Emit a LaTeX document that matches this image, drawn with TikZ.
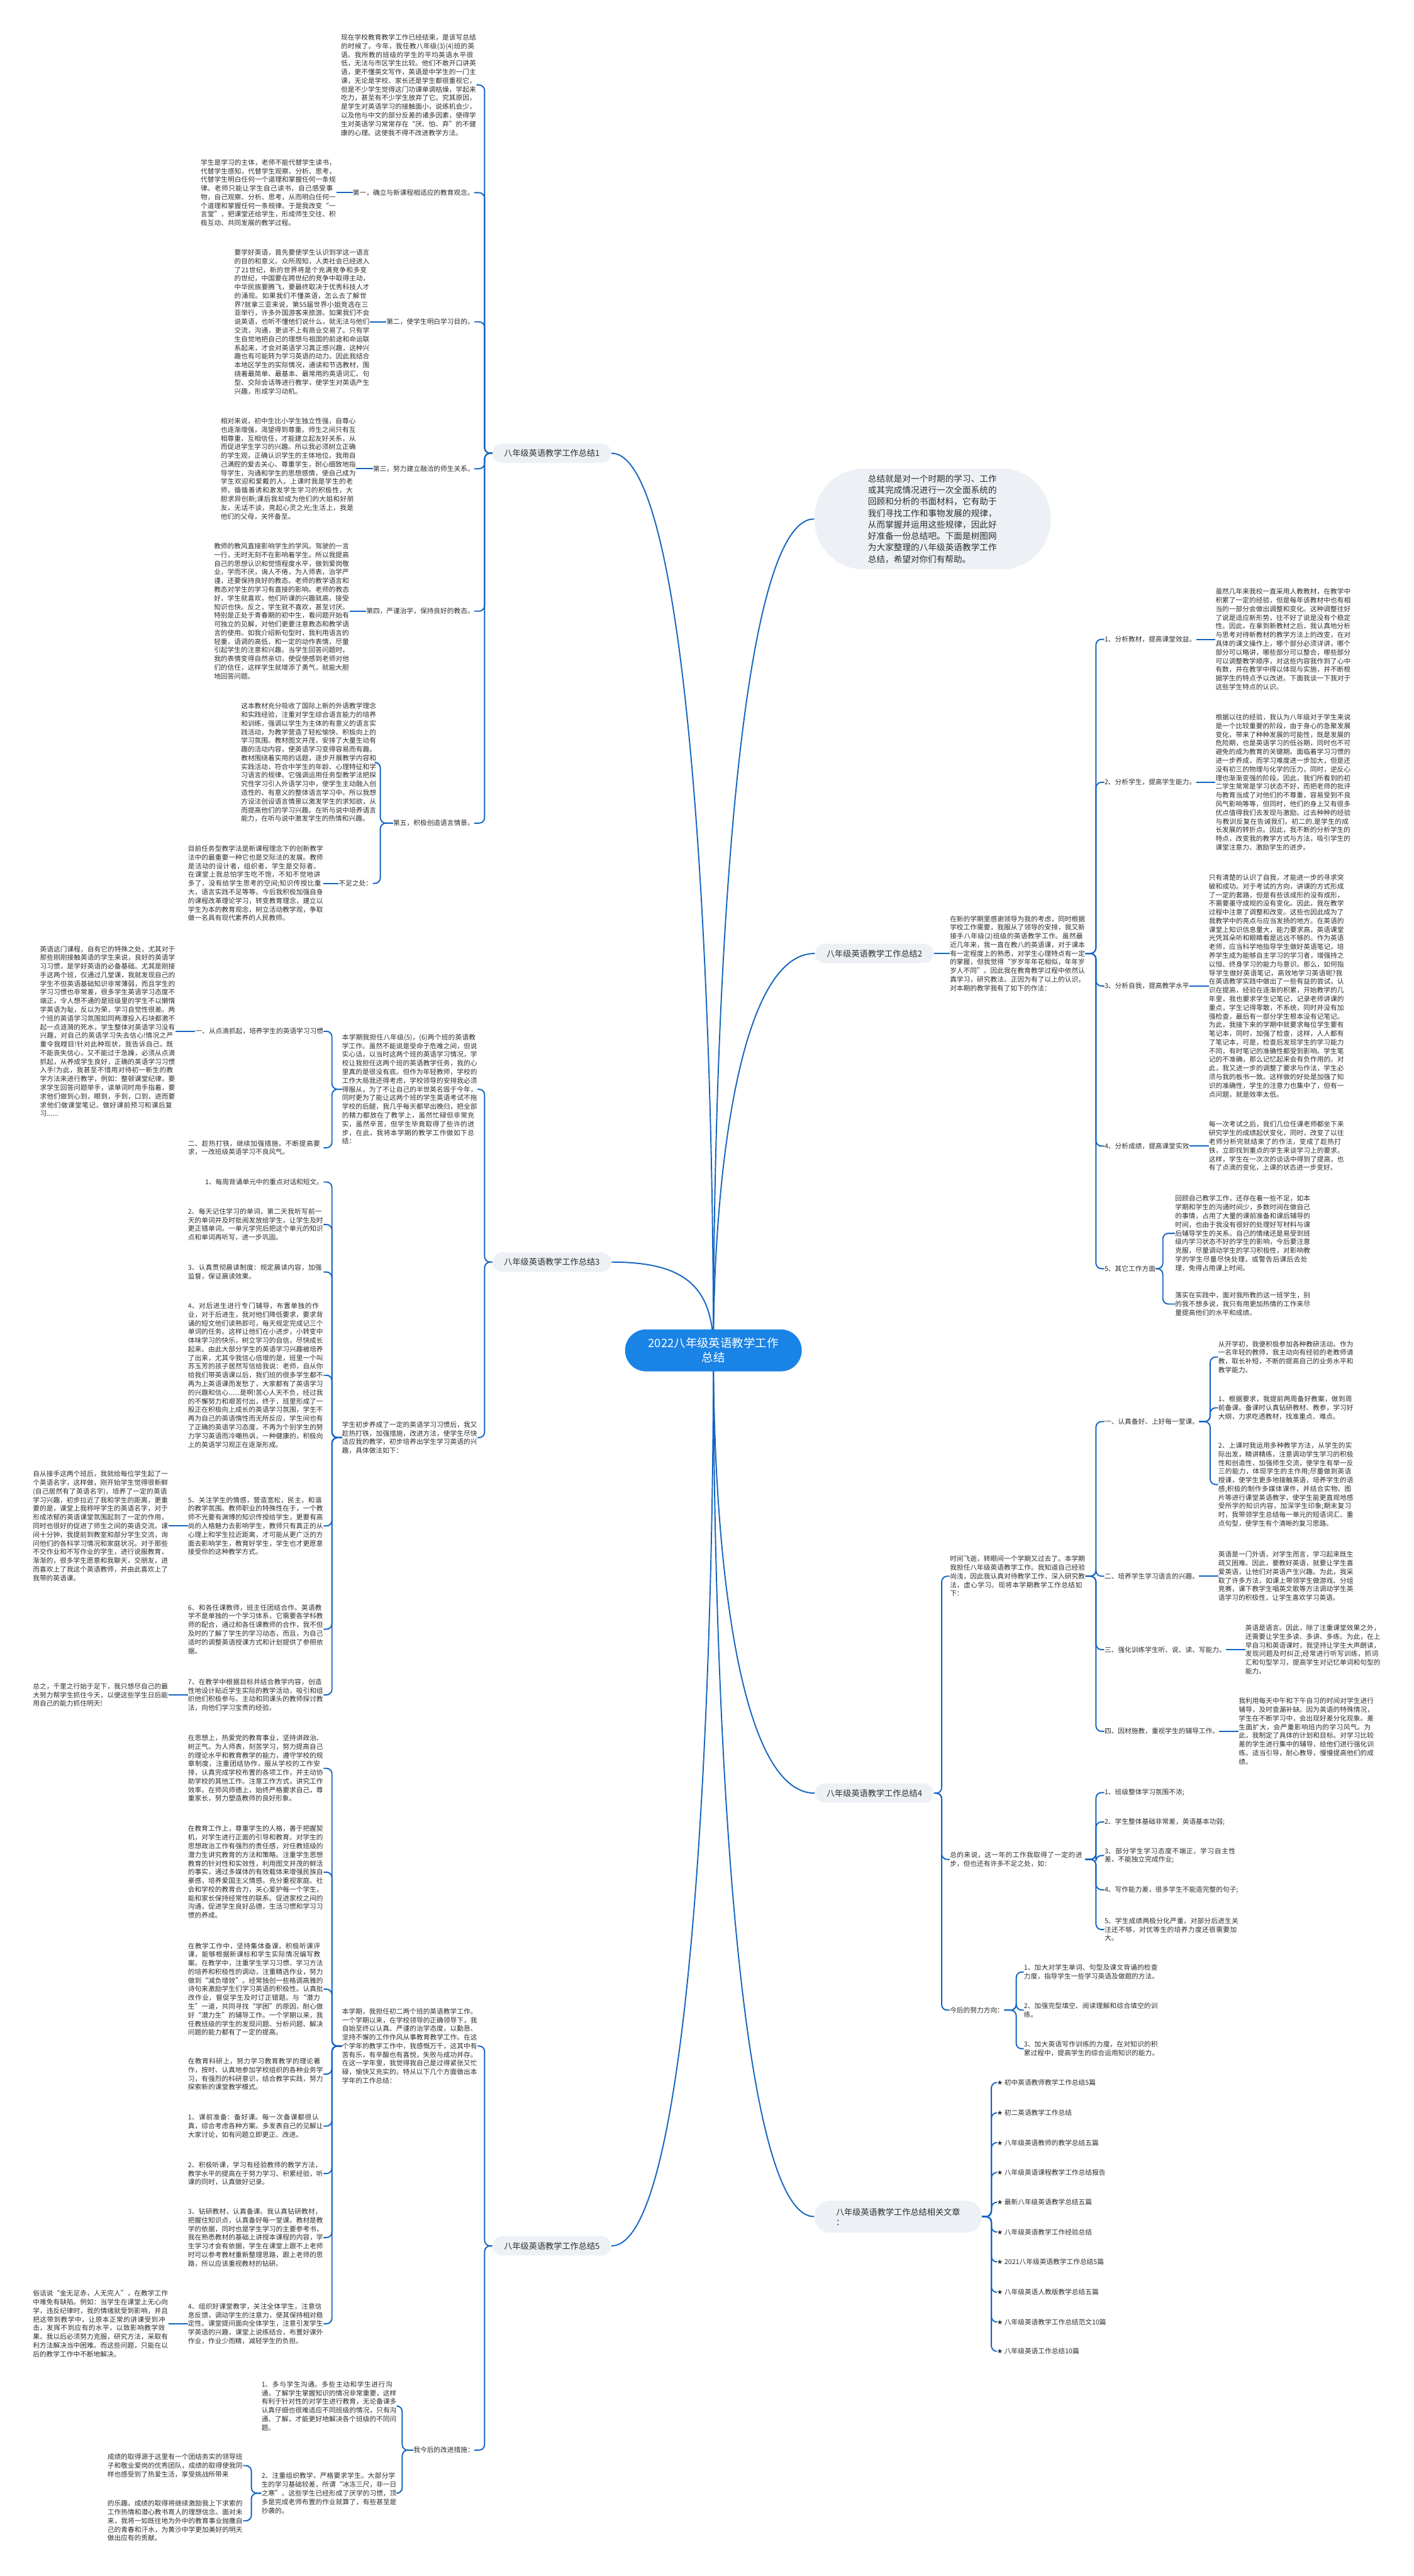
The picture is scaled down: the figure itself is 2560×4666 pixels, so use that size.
\documentclass[tikz,border=0pt]{standalone}
\usepackage{fontspec}
\setmainfont{Noto Sans CJK SC}
\newfontfamily\symf{DejaVu Sans}
\XeTeXlinebreaklocale "zh"
\XeTeXlinebreakskip = 0pt plus 1pt
\definecolor{lineblue}{RGB}{21,101,192}
\definecolor{cenblue}{RGB}{25,131,230}
\definecolor{bub}{RGB}{237,241,245}
\definecolor{txt}{RGB}{45,45,45}
\newcommand\myfs{\fontsize{6.1pt}{7.85pt}\selectfont}
\newcommand\mysumfs{\fontsize{7.75pt}{10.4pt}\selectfont}
\newcommand\mybrfs{\fontsize{7.5pt}{9pt}\selectfont}
\newcommand\mycenfs{\fontsize{10.5pt}{13pt}\selectfont}
\newcommand\st{{\symf ★}\ }
\pgfdeclarelayer{bg}
\pgfsetlayers{bg,main}
\tikzset{
  conn/.style={draw=lineblue, line width=1.1pt, rounded corners=5pt},
  cc/.style={draw=lineblue, line width=1.1pt},
  blk/.style={font=\myfs, text=txt, text width=122.5pt, align=left, inner sep=0pt},
  lab/.style={font=\myfs, text=txt, inner sep=0pt, align=left},
  br/.style={fill=bub, rounded corners=8.75pt, minimum width=107.5pt, minimum height=17.5pt, font=\mybrfs, text=txt, inner sep=0pt},
  cen/.style={fill=cenblue, text=white, rounded corners=19pt, minimum width=160pt, minimum height=38pt, font=\mycenfs, align=center, inner sep=0pt},
  sumb/.style={fill=bub, rounded corners=45pt, minimum width=214pt, minimum height=91.5pt, font=\mysumfs, text=txt, text width=117pt, align=left, inner sep=0pt}
}
\begin{document}
\begin{tikzpicture}[x=0.5pt,y=-0.5pt]
\useasboundingbox (0,0) rectangle (2560,4666);

% ---------- centre ----------
\node[cen] (cn) at (1292,2446) {2022八年级英语教学工作\\总结};

% ---------- branch 1 ----------
\node[br] (b1) at (999.5,821) {八年级英语教学工作总结1};
\node[blk, anchor=east] (a1) at (863,154) {现在学校教育教学工作已经结束，是该写总结的时候了。今年，我任教八年级(3)(4)班的英语。我所教的班级的学生的平均英语水平很低，无法与市区学生比较。他们不敢开口讲英语，更不懂英文写作，英语是中学生的一门主课，无论是学校、家长还是学生都很重视它，但是不少学生觉得这门功课单调枯燥，学起来吃力，甚至有不少学生放弃了它。究其原因，是学生对英语学习的接触面小，说练机会少，以及他与中文的部分反差的诸多因素，使得学生对英语学习常常存在“厌、怕、弃”的不健康的心理。这使我不得不改进教学方法。};
\node[lab, anchor=east] (l1) at (859,349) {第一，确立与新课程相适应的教育观念。};
\node[blk, anchor=east] (a2) at (609,349) {学生是学习的主体，老师不能代替学生读书，代替学生感知，代替学生观察、分析、思考，代替学生明白任何一个道理和掌握任何一条规律。老师只能让学生自己读书，自己感受事物，自己观察、分析、思考，从而明白任何一个道理和掌握任何一条规律。于是我改变“一言堂”，把课堂还给学生，形成师生交往、积极互动、共同发展的教学过程。};
\node[lab, anchor=east] (l2) at (859,583) {第二，使学生明白学习目的。};
\node[blk, anchor=east] (a3) at (670,583) {要学好英语，首先要使学生认识到学这一语言的目的和意义。众所周知，人类社会已经进入了21世纪，新的世界将是个充满竞争和多变的世纪，中国要在跨世纪的竞争中取得主动，中华民族要腾飞，要最终取决于优秀科技人才的涌现。如果我们不懂英语，怎么去了解世界?就拿三亚来说，第55届世界小姐竞选在三亚举行，许多外国游客来旅游。如果我们不会说英语，也听不懂他们说什么，就无法与他们交流，沟通，更谈不上有商业交易了。只有学生自觉地把自己的理想与祖国的前途和命运联系起来，才会对英语学习真正感兴趣，这种兴趣也有可能转为学习英语的动力。因此我结合本地区学生的实际情况，通读和节选教材，围绕着最简单、最基本、最常用的英语词汇、句型、交际会话等进行教学，使学生对英语产生兴趣，形成学习动机。};
\node[lab, anchor=east] (l3) at (859,849) {第三，努力建立融洽的师生关系。};
\node[blk, anchor=east] (a4) at (645,849) {相对来说，初中生比小学生独立性强，自尊心也逐渐增强，渴望得到尊重。师生之间只有互相尊重，互相信任，才能建立起友好关系，从而促进学生学习的兴趣。所以我必须树立正确的学生观，正确认识学生的主体地位。我用自己满腔的爱去关心、尊重学生，耐心细致地指导学生，沟通和学生的思想感情，使自己成为学生欢迎和爱戴的人。上课时我是学生的老师，循循善诱和激发学生学习的积极性，大胆求异创新;课后我却成为他们的大姐和好朋友，无话不谈，亮起心灵之光;生活上，我是他们的父母，关怀备至。};
\node[lab, anchor=east] (l4) at (859,1107) {第四，严谨治学，保持良好的教态。};
\node[blk, anchor=east] (a5) at (633,1107) {教师的教风直接影响学生的学风。驾驶的一言一行，无时无刻不在影响着学生。所以我提高自己的思想认识和觉悟程度水平，做到爱岗敬业，学而不厌，诲人不倦，为人师表，治学严谨，还要保持良好的教态。老师的教学语言和教态对学生的学习有直接的影响。老师的教态好，学生就喜欢，他们听课的兴趣就高，接受知识也快。反之，学生就不喜欢，甚至讨厌。特别是正处于青春期的初中生，看问题开始有可独立的见解，对他们更要注意教态和教学语言的使用。如我介绍新句型时，我利用语言的轻重，语调的高低，和一定的动作表情，尽量引起学生的注意和兴趣。当学生回答问题时，我的表情变得自然亲切，使促使感到老师对他们的信任，这样学生就增添了勇气，就能大胆地回答问题。};
\node[lab, anchor=east] (l5) at (859,1491) {第五，积极创造语言情景。};
\node[blk, anchor=east] (a6) at (682,1381) {这本教材充分吸收了国际上新的外语教学理念和实践经验，注重对学生综合语言能力的培养和训练，强调以学生为主体的有意义的语言实践活动，为教学营造了轻松愉快、积极向上的学习氛围。教材图文并茂，安排了大量生动有趣的活动内容，使英语学习变得容易而有趣。教材围绕着实用的话题，逐步开展教学内容和实践活动，符合中学生的年龄、心理特征和学习语言的规律。它强调运用任务型教学法把探究性学习引入外语学习中，使学生主动融入创造性的、有意义的整体语言学习中。所以我想方设法创设语言情景以激发学生的求知欲，从而提高他们的学习兴趣。在听与说中培养语言能力，在听与说中激发学生的热情和兴趣。};
\node[lab, anchor=east] (l6) at (675,1600) {不足之处：};
\node[blk, anchor=east] (a7) at (586,1600) {目前任务型教学法是新课程理念下的创新教学法中的最重要一种它也是交际法的发展。教师是活动的设计者，组织者，学生是交际者。在课堂上我总怕学生吃不饱，不知不觉地讲多了，没有给学生思考的空间;知识传授比重大，语言实践不足等等。今后我积极加强自身的课程改革理论学习，转变教育理念，建立以学生为本的教育观念，树立活动教学观，争取做一名具有现代素养的人民教师。};

% ---------- branch 3 ----------
\node[br] (b3) at (999.5,2286) {八年级英语教学工作总结3};
\node[blk, anchor=east] (c1) at (865,1973) {本学期我担任八年级(5)，(6)两个班的英语教学工作。虽然不能说是受命于危难之间，但说实心话，以当时这两个班的英语学习情况，学校让我担任这两个班的英语教学任务，我的心里真的是很没有底。但作为年轻教师，学校的工作大局我还得考虑，学校领导的安排我必须得服从，为了不让自己的半世英名毁于今年，同时更为了能让这两个班的学生英语考试不拖学校的后腿，我几乎每天都早出晚归，把全部的精力都放在了教学上，虽然忙碌但非常充实，虽然辛苦，但学生毕竟取得了些许的进步，在此，我将本学期的教学工作做如下总结：};
\node[lab, anchor=east] (k1) at (586,1868) {一、从点滴抓起，培养学生的英语学习习惯};
\node[blk, anchor=east] (h1) at (318,1868) {英语这门课程，自有它的特殊之处，尤其对于那些刚刚接触英语的学生来说，良好的英语学习习惯，是学好英语的必备基础。尤其是刚接手这两个班，仅通过几堂课，我就发现自己的学生不但英语基础知识非常薄弱，而且学生的学习习惯也非常差，很多学生英语学习态度不端正，令人想不通的是班级里的学生不以懒惰学英语为耻，反以为荣，学习自觉性很差。两个班的英语学习氛围如同两潭投入石块都激不起一点涟漪的死水，学生整体对英语学习没有兴趣，对自己的英语学习失去信心!情况之严重令我瞠目!针对此种现状，我告诉自己，既不能丧失信心，又不能过于急躁，必须从点滴抓起，从养成学生良好，正确的英语学习习惯入手!为此，我甚至不惜用对待初一新生的教学方法来进行教学，例如：整顿课堂纪律，要求学生回答问题举手，读单词时用手指着，要求他们做到心到，眼到，手到，口到，进而要求他们做课堂笔记，做好课前预习和课后复习......};
\node[blk, anchor=east] (k2) at (586,2079) {二、趁热打铁，继续加强措施，不断提高要求，一改班级英语学习不良风气。};
\node[blk, anchor=east] (c2) at (865,2604) {学生初步养成了一定的英语学习习惯后，我又趁热打铁，加强措施，改进方法，使学生尽快适应我的教学，初步培养出学生学习英语的兴趣，具体做法如下：};
\node[lab, anchor=east] (m1) at (586,2141) {1、每周背诵单元中的重点对话和短文。};
\node[blk, anchor=east] (m2) at (586,2218) {2、每天记住学习的单词，第二天我听写前一天的单词并及时批阅发放给学生，让学生及时更正错单词。一单元学完后把这个单元的知识点和单词再听写，进一步巩固。};
\node[blk, anchor=east] (m3) at (586,2304) {3、认真贯彻晨读制度：规定晨读内容，加强监督，保证晨读效果。};
\node[blk, anchor=east] (m4) at (586,2491) {4、对后进生进行专门辅导，布置单独的作业，对于后进生，我对他们降低要求，要求背诵的短文他们读熟即可，每天规定完成记三个单词的任务。这样让他们在小进步，小转变中体味学习的快乐，树立学习的自信，尽快成长起来。由此大部分学生的英语学习兴趣被培养了出来，尤其令我信心倍增的是，班里一个叫苏玉芳的孩子居然写信给我说：老师，自从你给我们带英语课以后，我们班的很多学生都不再为上英语课而发愁了，大家都有了英语学习的兴趣和信心......是啊!苦心人天不负，经过我的不懈努力和艰苦付出，终于，班里形成了一股正在积极向上成长的英语学习氛围，学生不再为自己的英语惰性而无所反应，学生间也有了正确的英语学习态度，不再为个别学生的努力学习英语而冷嘲热讽，一种健康的，积极向上的英语学习观正在逐渐形成。};
\node[blk, anchor=east] (m5) at (586,2764) {5、关注学生的情感，营造宽松，民主，和谐的教学氛围。教师职业的特殊性在于，一个教师不光要有渊博的知识传授给学生，更要有高尚的人格魅力去影响学生，教师只有真正的从心理上和学生拉近距离，才可能从更广泛的方面去影响学生，教育好学生，学生也才更愿意接受你的这种教学方式。};
\node[blk, anchor=east] (m5b) at (305,2764) {自从接手这两个班后，我就给每位学生起了一个英语名字，这样做，刚开始学生觉得很新鲜(自己居然有了英语名字)，培养了一定的英语学习兴趣，初步拉近了我和学生的距离，更重要的是，课堂上我称呼学生的英语名字，对于形成浓郁的英语课堂氛围起到了一定的作用，同时也很好的促进了师生之间的英语交流。课间十分钟，我提前到教室和部分学生交流，询问他们的各科学习情况和家庭状况。对于那些不交作业和不写作业的学生，进行说服教育，渐渐的，很多学生愿意和我聊天，交朋友，进而喜欢上了我这个英语教师，并由此喜欢上了我带的英语课。};
\node[blk, anchor=east] (m6) at (586,2951) {6、和各任课教师，班主任团结合作。英语教学不是单独的一个学习体系，它需要各学科教师的配合，通过和各任课教师的合作，我不但及时的了解了学生的学习动态，而且，为自己适时的调整英语授课方式和计划提供了参照依据。};
\node[blk, anchor=east] (m7) at (586,3070) {7、在教学中根据目标并结合教学内容，创造性地设计贴近学生实际的教学活动，吸引和组织他们积极参与。主动和同课头的教师探讨教法，向他们学习宝贵的经验。};
\node[blk, anchor=east] (m7b) at (305,3070) {总之，千里之行始于足下，我只想尽自己的最大努力帮学生抓住今天，以便这些学生日后能用自己的能力抓住明天!};

% ---------- branch 5 ----------
\node[br] (b5) at (999.5,4068) {八年级英语教学工作总结5};
\node[blk, anchor=east] (n0) at (865,3706) {本学期，我担任初二两个班的英语教学工作。一个学期以来，在学校领导的正确领导下，我自始至终以认真、严谨的治学态度，以勤恳、坚持不懈的工作作风从事教育教学工作。在这个学年的教学工作中，我感慨万千，这其中有苦有乐，有辛酸也有喜悦，失败与成功并存。在这一学年里，我觉得我自己是过得紧张又忙碌，愉快又充实的。特从以下几个方面做出本学年的工作总结：};
\node[blk, anchor=east] (p1) at (586,3203) {在思想上，热爱党的教育事业，坚持讲政治、树正气。为人师表，刻苦学习，努力提高自己的理论水平和教育教学的能力，遵守学校的规章制度，注重团结协作，服从学校的工作安排，认真完成学校布置的各项工作，并主动协助学校的其他工作。注意工作方式，讲究工作效率。在师风师德上，始终严格要求自己，尊重家长，努力塑造教师的良好形象。};
\node[blk, anchor=east] (p2) at (586,3391) {在教育工作上，尊重学生的人格，善于把握契机，对学生进行正面的引导和教育。对学生的思想政治工作有强烈的责任感，对任教班级的潜力生讲究教育的方法和策略。注重学生思想教育的针对性和实效性，利用图文并茂的鲜活的事实，通过多媒体的有效载体来增强民族自豪感，培养爱国主义情感。充分重视家庭、社会和学校的教育合力，关心爱护每一个学生，能和家长保持经常性的联系。促进家校之间的沟通，促进学生良好品德，生活习惯和学习习惯的养成。};
\node[blk, anchor=east] (p3) at (586,3603) {在教学工作中，坚持集体备课，积极听课评课，能够根据新课标和学生实际情况编写教案。在教学中，注重学生学习习惯、学习方法的培养和积极性的调动，注重精选作业，努力做到“减负增效”。经常独创一些格调高雅的诗句来激励学生们学习英语的积极性。认真批改作业，督促学生及时订正错题。与“潜力生”一道，共同寻找“学困”的原因，耐心做好“潜力生”的辅导工作。一个学期以来，我任教班级的学生的发现问题、分析问题、解决问题的能力都有了一定的提高。};
\node[blk, anchor=east] (p4) at (586,3757) {在教育科研上，努力学习教育教学的理论著作，按时、认真地参加学校组织的各种业务学习，有强烈的科研意识，结合教学实践，努力探索新的课堂教学模式。};
\node[blk, anchor=east] (p5) at (586,3851) {1、课前准备：备好课。每一次备课都很认真，综合考虑各种方案。多发表自己的见解让大家讨论，如有问题立即更正、改进。};
\node[blk, anchor=east] (p6) at (586,3937) {2、积极听课，学习有经验教师的教学方法，教学水平的提高在于努力学习、积累经验，听课的同时，认真做好记录。};
\node[blk, anchor=east] (p7) at (586,4053) {3、钻研教材，认真备课。我认真钻研教材，把握住知识点，认真备好每一堂课。教材是教学的依据，同时也是学生学习的主要参考书，我在熟悉教材的基础上讲授本课程的内容，学生学习才会有依据，学生在课堂上跟不上老师时可以参考教材重新整理思路，跟上老师的思路，所以应该重视教材的钻研。};
\node[blk, anchor=east] (p8) at (586,4209) {4、组织好课堂教学，关注全体学生，注意信息反馈，调动学生的注意力，使其保持相对稳定性。课堂提问面向全体学生，注意引发学生学英语的兴趣，课堂上说练结合，布置好课外作业，作业少而精，减轻学生的负担。};
\node[blk, anchor=east] (p8b) at (305,4209) {俗话说“金无足赤，人无完人”，在教学工作中难免有缺陷。例如：当学生在课堂上无心向学，违反纪律时，我的情绪就受到影响，并且把这带到教学中，让原本正常的讲课受到冲击，发挥不到应有的水平，以致影响教学效果。我以后必须努力克服，研究方法，采取有利方法解决当中困难。而这些问题，只能在以后的教学工作中不断地解决。};
\node[lab, anchor=east] (q0) at (859,4438) {我今后的改进措施：};
\node[blk, anchor=east] (q1) at (719,4358) {1、多与学生沟通。多些主动和学生进行沟通，了解学生掌握知识的情况非常重要，这样有利于针对性的对学生进行教育，无论备课多认真仔细也很难适应不同班级的情况，只有沟通、了解，才能更好地解决各个班级的不同问题。};
\node[blk, anchor=east] (q2) at (719,4516) {2、注重组织教学，严格要求学生。大部分学生的学习基础较差，所谓“冰冻三尺，非一日之寒”。这些学生已经形成了厌学的习惯，顶多是完成老师布置的作业就算了，有些甚至是抄袭的。};
\node[blk, anchor=east] (r1) at (440,4466) {成绩的取得源于这里有一个团结务实的领导班子和敬业爱岗的优秀团队，成绩的取得使我同样也感受到了热爱生活，享受挑战所带来};
\node[blk, anchor=east] (r2) at (440,4566) {的乐趣。成绩的取得将继续激励我上下求索的工作热情和潜心教书育人的理想信念。面对未来，我将一如既往地为外中的教育事业抛撒自己的青春和汗水，为黄沙中学更加美好的明天做出应有的贡献。};

% ---------- summary ----------
\node[sumb] (sm) at (1689,940) {总结就是对一个时期的学习、工作或其完成情况进行一次全面系统的回顾和分析的书面材料，它有助于我们寻找工作和事物发展的规律，从而掌握并运用这些规律，因此好好准备一份总结吧。下面是树图网为大家整理的八年级英语教学工作总结，希望对你们有帮助。};

% ---------- branch 2 ----------
\node[br] (b2) at (1583.5,1727) {八年级英语教学工作总结2};
\node[blk, anchor=west] (s0) at (1720,1727) {在新的学期里感谢领导为我的考虑，同时根据学校工作需要，我服从了领导的安排，我又新接手八年级(2)班级的英语教学工作。虽然最近几年来，我一直在教八的英语课，对于课本有一定程度上的熟悉，对学生心理特点有一定的掌握，但我觉得“岁岁年年花相似，年年岁岁人不同”。因此我在教育教学过程中依然认真学习，研究教法。正因为有了以上的认识，对本期的教学我有了如下的作法：};
\node[lab, anchor=west] (i1) at (2000,1158) {1、分析教材，提高课堂效益。};
\node[lab, anchor=west] (i2) at (2000,1417) {2、分析学生，提高学生能力。};
\node[lab, anchor=west] (i3) at (2000,1786) {3、分析自我，提高教学水平};
\node[lab, anchor=west] (i4) at (2000,2076) {4、分析成绩，提高课堂实效};
\node[lab, anchor=west] (i5) at (2000,2298) {5、其它工作方面};
\node[blk, anchor=west] (t1) at (2201,1158) {虽然几年来我校一直采用人教教材，在教学中积累了一定的经验，但是每年该教材中也有相当的一部分会做出调整和变化。这种调整往好了说是适应新形势，往不好了说是没有个稳定性。因此，在拿到新教材之后，我认真地分析与思考对待新教材的教学方法上的改变，在对具体的课文操作上，哪个部分必须详讲，哪个部分可以略讲，哪些部分可以整合，哪些部分可以调整教学顺序，对这些内容我作到了心中有数，并在教学中得以体现与实施，并不断根据学生的特点予以改进。下面我谈一下我对于这些学生特点的认识。};
\node[blk, anchor=west] (t2) at (2201,1417) {根据以往的经验，我认为八年级对于学生来说是一个比较重要的阶段，由于身心的急聚发展变化，带来了种种发展的可能性，既是发展的危险期，也是英语学习的低谷期，同时也不可避免的成为教育的关键期。面临着学习习惯的进一步养成，而学习难度进一步加大，但是还没有初三的物理与化学的压力，同时，逆反心理也渐渐变强的阶段。因此，我们所看到的初二学生常常是学习状态不好，而把老师的批评与教育当成了对他们的不尊重，容易受到不良风气影响等等，但同时，他们的身上又有很多优点值得我们去发现与激励。过去种种的经验与教训反复在告诫我们，初二的.是学生的成长发展的转折点。因此，我不断的分析学生的特点，改变我的教学方式与方法，吸引学生的课堂注意力、激励学生的进步。};
\node[blk, anchor=west] (t3) at (2189,1786) {只有清楚的认识了自我，才能进一步的寻求突破和成功。对于考试的方向，讲课的方式形成了一定的套路，但是有些该成形的没有成形，不需要墨守成规的没有变化。因此，我在教学过程中注意了调整和改变。这些也因此成为了我教学中的亮点与应当发扬的地方。在英语的课堂上知识信息量大，能力要求高，英语课堂光凭耳朵听和眼睛看是远远不够的。作为英语老师，应当科学地指导学生做好英语笔记，培养学生成为能够自主学习的学习者，增强持之以恒、终身学习的能力与意识。那么，如何指导学生做好英语笔记，高效地学习英语呢?我在英语教学实践中做出了一些有益的尝试，认识在提高，经验在逐渐的积累，开始教学的几年里，我也要求学生记笔记，记录老师讲课的重点，学生记得零散，不系统，同时并没有加强检查，最后有一部分学生根本没有记笔记。为此，我接下来的学期中就要求每位学生要有笔记本，同时，加强了检查，这样，人人都有了笔记本，可是，检查后发现学生的学习能力不同，有时笔记的准确性都受到影响。学生笔记的不准确，那么记忆起来会有负作用的。对此，我又进一步的调整了要求与作法，学生必须与我的板书一致。这样做的好处是加强了知识的准确性，学生的注意力也集中了，但有一点问题，就是效率太低。};
\node[blk, anchor=west] (t4) at (2189,2076) {每一次考试之后，我们几位任课老师都坐下来研究学生的成绩起伏变化，同时，改变了以往老师分析完就结束了的作法，变成了趁热打铁，立即找到重点的学生来谈学习上的要求。这样，学生在一次次的谈话中得到了提高，也有了点滴的变化，上课的状态进一步变好。};
\node[blk, anchor=west] (t5a) at (2128,2234) {回顾自己教学工作，还存在着一些不足，如本学期和学生的沟通时间少，多数时间在做自己的事情，占用了大量的课前准备和课后辅导的时间，也由于我没有很好的处理好写材料与课后辅导学生的关系。自己的情绪还是易受到班级内学习状态不好的学生的影响，今后要注意克服，尽量调动学生的学习积极性，对影响教学的学生尽量尽快处理，或警告后课后去处理，免得占用课上时间。};
\node[blk, anchor=west] (t5b) at (2128,2362) {落实在实践中，面对我所教的这一班学生，别的我不想多说，我只有用更加热情的工作来尽量提高他们的水平和成绩。};

% ---------- branch 4 ----------
\node[br] (b4) at (1583.5,3248) {八年级英语教学工作总结4};
\node[blk, anchor=west] (u0) at (1720,2855) {时间飞逝，转眼间一个学期又过去了。本学期我担任八年级英语教学工作。我知道自己经验尚浅，因此我认真对待教学工作，深入研究教法，虚心学习。现将本学期教学工作总结如下：};
\node[lab, anchor=west] (v1) at (2000,2575) {一、认真备好、上好每一堂课。};
\node[lab, anchor=west] (v2) at (2000,2855) {二、培养学生学习语言的兴趣。};
\node[lab, anchor=west] (v3) at (2000,2988) {三、强化训练学生听、说、读、写能力。};
\node[lab, anchor=west] (v4) at (2000,3136) {四、因材施教，重视学生的辅导工作。};
\node[blk, anchor=west] (w1) at (2206,2458) {从开学初，我便积极参加各种教研活动。作为一名年轻的教师，我主动向有经验的老教师请教，取长补短，不断的提高自己的业务水平和教学能力。};
\node[blk, anchor=west] (w2) at (2206,2550) {1、根据要求，我提前两周备好教案，做到周前备课。备课时认真钻研教材、教参，学习好大纲，力求吃透教材，找准重点、难点。};
\node[blk, anchor=west] (w3) at (2206,2689) {2、上课时我运用多种教学方法，从学生的实际出发，精讲精练，注意调动学生学习的积极性和创造性，加强师生交流，使学生有举一反三的能力，体现学生的主作用;尽量做到英语授课，使学生更多地接触英语，培养学生的语感;积极的制作多媒体课件，并结合实物、图片等进行课堂英语教学，使学生能更直观地感受所学的知识内容，加深学生印象;期末复习时，我带领学生总结每一单元的短语词汇、重点句型，使学生有个清晰的复习思路。};
\node[blk, anchor=west] (w4) at (2206,2855) {英语是一门外语，对学生而言，学习起来既生疏又困难。因此，要教好英语，就要让学生喜爱英语，让他们对英语产生兴趣。为此，我采取了许多方法，如课上带领学生做游戏、分组竞赛，课下教学生唱英文歌等方法调动学生英语学习的积极性，让学生喜欢学习英语。};
\node[blk, anchor=west] (w5) at (2255,2988) {英语是语言。因此，除了注重课堂效果之外，还需要让学生多读、多讲、多练。为此，在上早自习和英语课时，我坚持让学生大声朗读，发现问题及时纠正;经常进行听写训练，抓词汇和句型学习，提高学生对记忆单词和句型的能力。};
\node[blk, anchor=west] (w6) at (2243,3136) {我利用每天中午和下午自习的时间对学生进行辅导，及时查漏补缺。因为英语的特殊情况，学生在不断学习中，会出现好差分化现象。差生面扩大，会严重影响班内的学习风气。为此，我制定了具体的计划和目标。对学习比较差的学生进行集中的辅导，给他们进行强化训练。适当引导，耐心教导，慢慢提高他们的成绩。};
\node[blk, anchor=west] (sx) at (1720,3368) {总的来说，这一年的工作我取得了一定的进步，但也还有许多不足之处，如：};
\node[lab, anchor=west] (x1) at (2000,3247) {1、班级整体学习氛围不浓;};
\node[lab, anchor=west] (x2) at (2000,3300) {2、学生整体基础非常差，英语基本功弱;};
\node[blk, anchor=west] (x3) at (2000,3361) {3、部分学生学习态度不端正，学习自主性差，不能独立完成作业;};
\node[lab, anchor=west] (x4) at (2000,3423) {4、写作能力差，很多学生不能造完整的句子;};
\node[blk, anchor=west] (x5) at (2000,3495) {5、学生成绩两极分化严重，对部分后进生关注还不够，对优等生的培养力度还很需要加大。};
\node[lab, anchor=west] (fu) at (1720,3641) {今后的努力方向：};
\node[blk, anchor=west] (y1) at (1854,3572) {1、加大对学生单词、句型及课文背诵的检查力度，指导学生一些学习英语及做题的方法。};
\node[blk, anchor=west] (y2) at (1854,3641) {2、加强完型填空、阅读理解和综合填空的训练。};
\node[blk, anchor=west] (y3) at (1854,3711) {3、加大英语写作训练的力度，在对知识的积累过程中，提高学生的综合运用知识的能力。};

% ---------- related ----------
\node[br, minimum width=151.5pt, minimum height=29pt, rounded corners=14pt, align=left] (rl) at (1626.5,4015) {八年级英语教学工作总结相关文章\\：};
\node[lab, anchor=west] (z1) at (1805,3772) {\st 初中英语教师教学工作总结5篇};
\node[lab, anchor=west] (z2) at (1805,3827) {\st 初二英语教学工作总结};
\node[lab, anchor=west] (z3) at (1805,3881) {\st 八年级英语教师的教学总结五篇};
\node[lab, anchor=west] (z4) at (1805,3935) {\st 八年级英语课程教学工作总结报告};
\node[lab, anchor=west] (z5) at (1805,3989) {\st 最新八年级英语教学总结五篇};
\node[lab, anchor=west] (z6) at (1805,4043) {\st 八年级英语教学工作经验总结};
\node[lab, anchor=west] (z7) at (1805,4097) {\st 2021八年级英语教学工作总结5篇};
\node[lab, anchor=west] (z8) at (1805,4152) {\st 八年级英语人教版教学总结五篇};
\node[lab, anchor=west] (z9) at (1805,4206) {\st 八年级英语教学工作总结范文10篇};
\node[lab, anchor=west] (z10) at (1805,4259) {\st 八年级英语工作总结10篇};

% ---------- connectors ----------
\begin{pgfonlayer}{bg}
\fill[white] (0,0) rectangle (2560,4666);
\draw[cc] (b1.east) .. controls (1250,821) and (1292,1800) .. (cn.center);
\draw[cc] (b3.east) .. controls (1240,2286) and (1292,2330) .. (cn.center);
\draw[cc] (b5.east) .. controls (1250,4068) and (1292,3100) .. (cn.center);
\draw[cc] (sm.west) .. controls (1335,940) and (1292,1800) .. (cn.center);
\draw[cc] (b2.west) .. controls (1335,1727) and (1292,2150) .. (cn.center);
\draw[cc] (b4.west) .. controls (1335,3248) and (1292,2800) .. (cn.center);
\draw[cc] (rl.west) .. controls (1335,4015) and (1292,3100) .. (cn.center);

\foreach \c in {a1,l1,l2,l3,l4,l5} {\draw[conn] (b1.west) -- ++(-14,0) |- (\c.east);}
\draw[conn] (l1.west) -- (a2.east);
\draw[conn] (l2.west) -- (a3.east);
\draw[conn] (l3.west) -- (a4.east);
\draw[conn] (l4.west) -- (a5.east);
\foreach \c in {a6,l6} {\draw[conn] (l5.west) -- ++(-23,0) |- (\c.east);}
\draw[conn] (l6.west) -- (a7.east);

\foreach \c in {c1,c2} {\draw[conn] (b3.west) -- ++(-14,0) |- (\c.east);}
\foreach \c in {k1,k2} {\draw[conn] (c1.west) -- ++(-18,0) |- (\c.east);}
\draw[conn] (k1.west) -- (h1.east);
\foreach \c in {m1,m2,m3,m4,m5,m6,m7} {\draw[conn] (c2.west) -- ++(-18,0) |- (\c.east);}
\draw[conn] (m5.west) -- (m5b.east);
\draw[conn] (m7.west) -- (m7b.east);

\foreach \c in {n0,q0} {\draw[conn] (b5.west) -- ++(-14,0) |- (\c.east);}
\foreach \c in {p1,p2,p3,p4,p5,p6,p7,p8} {\draw[conn] (n0.west) -- ++(-18,0) |- (\c.east);}
\draw[conn] (p8.west) -- (p8b.east);
\foreach \c in {q1,q2} {\draw[conn] (q0.west) -- ++(-20,0) |- (\c.east);}
\foreach \c in {r1,r2} {\draw[conn] (q2.west) -- ++(-18,0) |- (\c.east);}

\draw[conn] (b2.east) -- (s0.west);
\foreach \c in {i1,i2,i3,i4,i5} {\draw[conn] (s0.east) -- ++(19,0) |- (\c.west);}
\draw[conn] (i1.east) -- (t1.west);
\draw[conn] (i2.east) -- (t2.west);
\draw[conn] (i3.east) -- (t3.west);
\draw[conn] (i4.east) -- (t4.west);
\foreach \c in {t5a,t5b} {\draw[conn] (i5.east) -- ++(13,0) |- (\c.west);}

\foreach \c in {u0,sx,fu} {\draw[conn] (b4.east) -- ++(14,0) |- (\c.west);}
\foreach \c in {v1,v2,v3,v4} {\draw[conn] (u0.east) -- ++(19,0) |- (\c.west);}
\foreach \c in {w1,w2,w3} {\draw[conn] (v1.east) -- ++(20,0) |- (\c.west);}
\draw[conn] (v2.east) -- (w4.west);
\draw[conn] (v3.east) -- (w5.west);
\draw[conn] (v4.east) -- (w6.west);
\foreach \c in {x1,x2,x3,x4,x5} {\draw[conn] (sx.east) -- ++(19,0) |- (\c.west);}
\foreach \c in {y1,y2,y3} {\draw[conn] (fu.east) -- ++(22,0) |- (\c.west);}
\foreach \c in {z1,z2,z3,z4,z5,z6,z7,z8,z9,z10} {\draw[conn] (rl.east) -- ++(17,0) |- (\c.west);}
\end{pgfonlayer}
\end{tikzpicture}
\end{document}
